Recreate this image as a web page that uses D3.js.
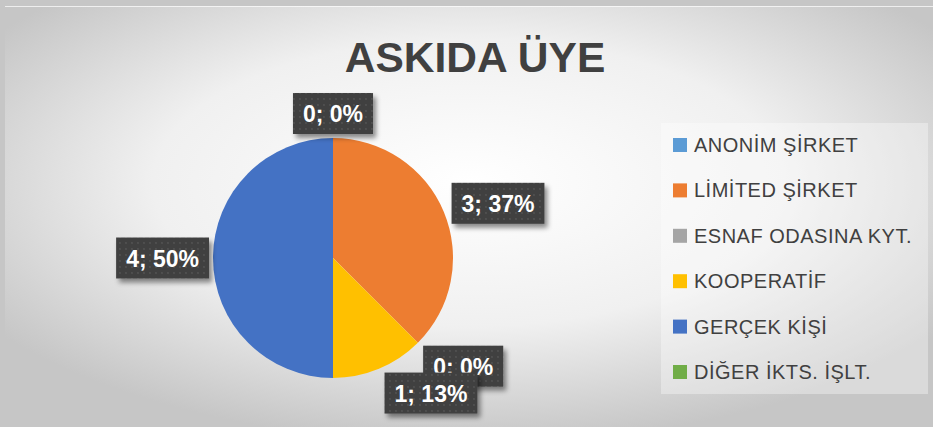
<!DOCTYPE html>
<html>
<head>
<meta charset="utf-8">
<script src="https://cdn.jsdelivr.net/npm/d3@7"></script>
<style>
  html, body { margin: 0; padding: 0; background: #fff; }
  svg { display: block; }
</style>
</head>
<body>
<div id="chart"></div>
<script>
// veri
var categories = ["ANONİM ŞİRKET", "LİMİTED ŞİRKET", "ESNAF ODASINA KYT.", "KOOPERATİF", "GERÇEK KİŞİ", "DİĞER İKTS. İŞLT."];
var values = [0, 3, 0, 1, 4, 0];
var percentLabels = ["0%", "37%", "0%", "13%", "50%", "0%"];
var showLabel = [true, true, true, true, true, false];
var colors = ["#5B9BD5", "#ED7D31", "#A5A5A5", "#FFC000", "#4472C4", "#70AD47"];
var title = "ASKIDA ÜYE";

var W = 933, H = 427;
var cx = 333, cy = 258, R = 120;

var svg = d3.select("#chart").append("svg")
    .attr("width", W).attr("height", H);

var defs = svg.append("defs");

// arka plan
var bg = defs.append("radialGradient").attr("id", "bg")
    .attr("cx", "50%").attr("cy", "42%").attr("r", "62%");
bg.append("stop").attr("offset", "0%").attr("stop-color", "#ffffff");
bg.append("stop").attr("offset", "55%").attr("stop-color", "#f0f0f0");
bg.append("stop").attr("offset", "100%").attr("stop-color", "#c6c6c6");

var pat = defs.append("pattern").attr("id", "dots")
    .attr("width", 6).attr("height", 6).attr("patternUnits", "userSpaceOnUse");
pat.append("rect").attr("width", 6).attr("height", 6).attr("fill", "#404040");
pat.append("circle").attr("cx", 3).attr("cy", 3).attr("r", 0.9).attr("fill", "#555555");

var sh = defs.append("filter").attr("id", "shadow")
    .attr("x", "-20%").attr("y", "-20%").attr("width", "150%").attr("height", "160%");
sh.append("feDropShadow").attr("dx", 3).attr("dy", 4).attr("stdDeviation", 2.5)
    .attr("flood-color", "#000").attr("flood-opacity", 0.45);

svg.append("rect").attr("width", W).attr("height", H).attr("fill", "#c6c6c6");
svg.append("rect").attr("x", 5).attr("y", 6).attr("width", W - 5).attr("height", H - 6)
    .attr("fill", "url(#bg)");
svg.append("line").attr("x1", 5).attr("x2", W).attr("y1", 6.5).attr("y2", 6.5)
    .attr("stroke", "#ffffff").attr("stroke-opacity", 0.7);

// başlık
svg.append("text")
    .attr("x", 475).attr("y", 72)
    .attr("text-anchor", "middle")
    .attr("font-family", "Liberation Sans, Arial, sans-serif")
    .attr("font-weight", "bold")
    .attr("font-size", 42.5)
    .attr("fill", "#404040")
    .text(title);

// pasta
var data = categories.map(function (c, i) {
    return { name: c, value: values[i], pct: percentLabels[i], color: colors[i], show: showLabel[i] };
});

var pie = d3.pie().sort(null).value(function (d) { return d.value; });
var arc = d3.arc().innerRadius(0).outerRadius(R);
var arcs = pie(data);

var g = svg.append("g").attr("transform", "translate(" + cx + "," + cy + ")");
g.selectAll("path")
    .data(arcs.filter(function (d) { return d.value > 0; }))
    .enter().append("path")
    .attr("d", arc)
    .attr("fill", function (d) { return d.data.color; });

// etiketler (en uygun yerleşim yaklaşık)
var labelNudge = { 1: [4, 12], 2: [22, 0], 3: [42, 0] };
var boxH = 41, padX = 10, gap = 4;
var labelFont = "Liberation Sans, Arial, sans-serif";

var lg = g.append("g");
arcs.forEach(function (d, i) {
    if (!d.data.show) return;
    var txt = d.data.value + "; " + d.data.pct;
    var t = lg.append("text")
        .attr("font-family", labelFont).attr("font-weight", "bold")
        .attr("font-size", 23).attr("fill", "#ffffff")
        .attr("text-anchor", "middle")
        .text(txt);
    var tw = t.node().getComputedTextLength();
    var bw = tw + padX * 2;
    var a = (d.startAngle + d.endAngle) / 2;
    var ux = Math.sin(a), uy = -Math.cos(a);
    var ex = Math.abs(ux) > 1e-6 ? (bw / 2) / Math.abs(ux) : Infinity;
    var ey = Math.abs(uy) > 1e-6 ? (boxH / 2) / Math.abs(uy) : Infinity;
    var dist = R + gap + Math.min(ex, ey);
    var n = labelNudge[i] || [0, 0];
    var x = ux * dist + n[0], y = uy * dist + n[1];
    lg.insert("rect", function () { return t.node(); })
        .attr("x", x - bw / 2).attr("y", y - boxH / 2)
        .attr("width", bw).attr("height", boxH)
        .attr("fill", "url(#dots)")
        .attr("filter", "url(#shadow)");
    t.attr("x", x).attr("y", y + 8.5);
});

// lejant
var legend = svg.append("g");
legend.append("rect")
    .attr("x", 661).attr("y", 123).attr("width", 267).attr("height", 271)
    .attr("fill", "#ffffff").attr("fill-opacity", 0.35);

var ly = d3.scalePoint().domain(categories).range([145, 372]);
var items = legend.selectAll("g.item").data(data).enter().append("g")
    .attr("class", "item")
    .attr("transform", function (d) { return "translate(673," + ly(d.name) + ")"; });
items.append("rect")
    .attr("x", 0).attr("y", -7).attr("width", 14).attr("height", 14)
    .attr("fill", function (d) { return d.color; });
items.append("text")
    .attr("x", 21).attr("y", 7)
    .attr("font-family", "Liberation Sans, Arial, sans-serif")
    .attr("font-size", 20)
    .attr("letter-spacing", 0.5)
    .attr("fill", "#404040")
    .text(function (d) { return d.name; });
</script>
</body>
</html>
